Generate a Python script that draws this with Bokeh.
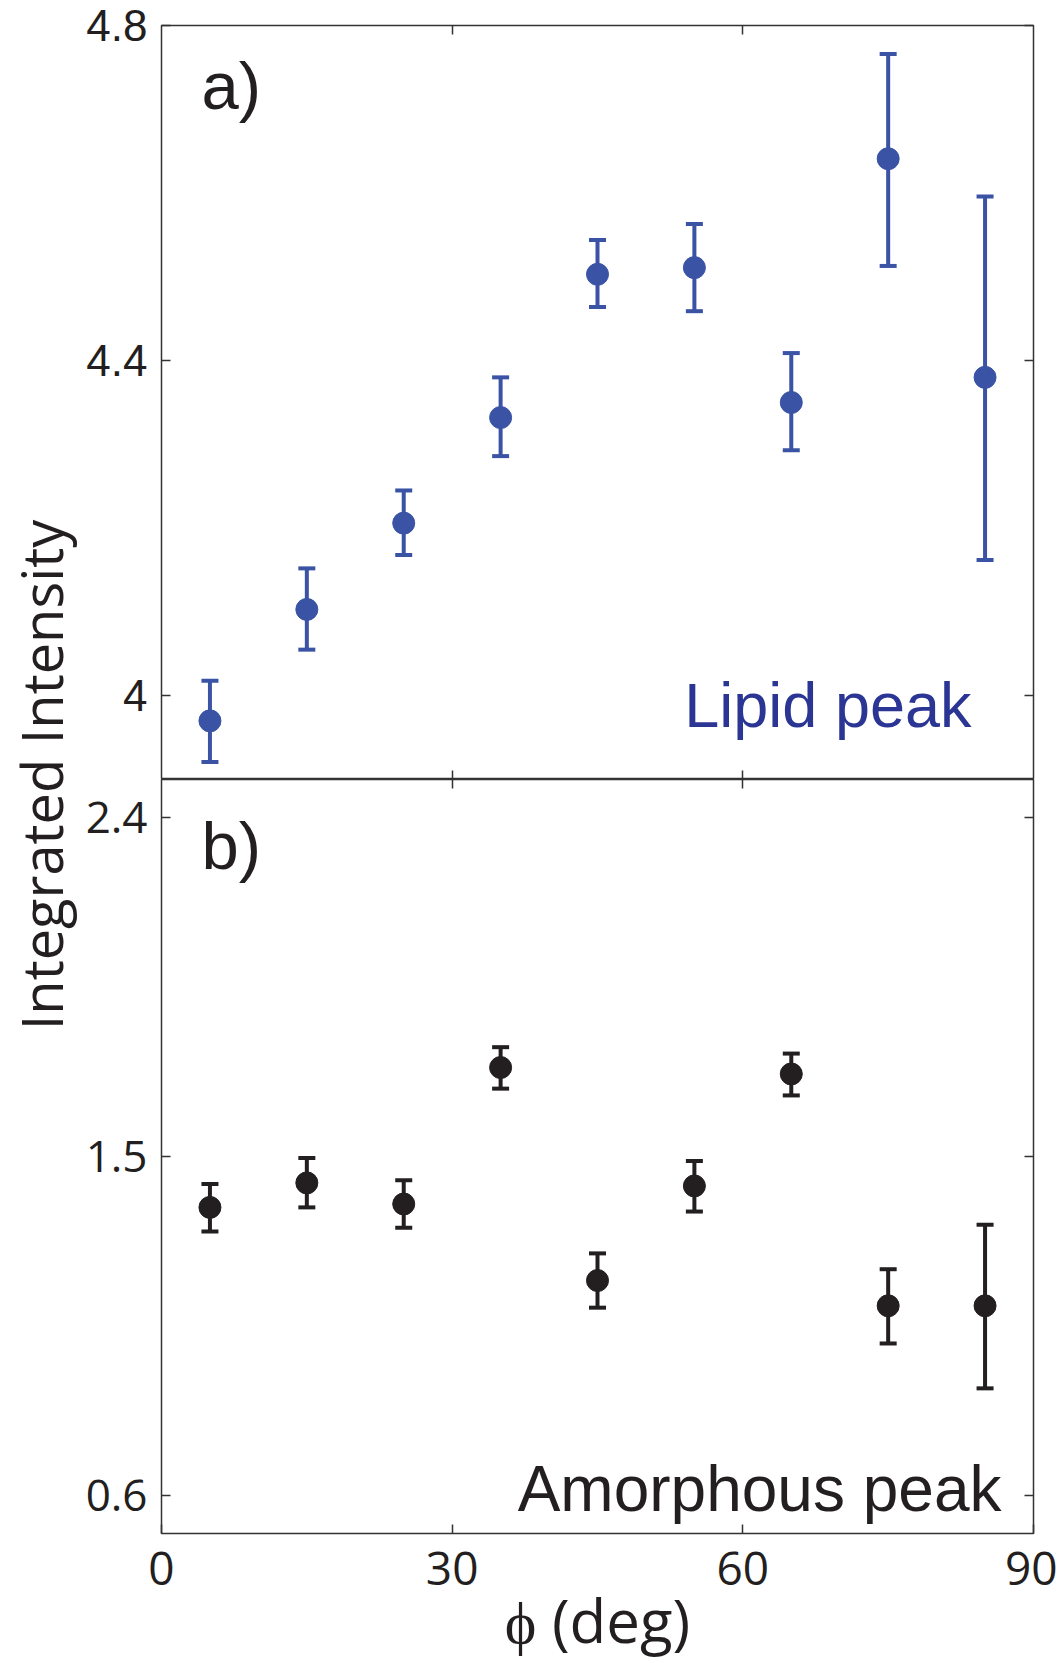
import math
from bokeh.plotting import figure
from bokeh.models import (Range1d, FixedTicker, LinearAxis, Whisker, ColumnDataSource,
                          Label, TeeHead)
from bokeh.layouts import row, column
from bokeh.embed import file_html
from bokeh.resources import INLINE

# ---------------- data ----------------
phi = [5, 15, 25, 35, 45, 55, 65, 75, 85]
lipid = [3.970, 4.103, 4.206, 4.332, 4.503, 4.511, 4.350, 4.641, 4.380]
lipid_upper = [4.018, 4.152, 4.245, 4.380, 4.544, 4.563, 4.409, 4.766, 4.596]
lipid_lower = [3.921, 4.055, 4.168, 4.286, 4.464, 4.459, 4.293, 4.513, 4.162]
amorph = [1.365, 1.430, 1.374, 1.736, 1.171, 1.422, 1.719, 1.104, 1.104]
amorph_upper = [1.427, 1.496, 1.437, 1.790, 1.243, 1.488, 1.773, 1.201, 1.319]
amorph_lower = [1.301, 1.365, 1.311, 1.680, 1.099, 1.354, 1.662, 1.004, 0.885]
x_ticks = [0, 30, 60, 90]
x_inner_ticks = [30, 60]
lipid_ticks = [4.0, 4.4, 4.8]
amorph_ticks = [0.6, 1.5, 2.4]

BLUE = "#3A53A4"
BLUE_TXT = "#2B3594"
BLACK = "#231F20"
FRAME = "#333333"
SANS_A = "Liberation Sans"
SANS_B = "Open Sans"


def blank_axis(ticks):
    return LinearAxis(ticker=FixedTicker(ticks=ticks), major_tick_in=9, major_tick_out=0,
                      minor_tick_line_color=None, axis_line_color=None,
                      major_tick_line_color=FRAME, major_tick_line_width=1.5,
                      major_label_overrides={t: "" for t in ticks},
                      major_label_text_font_size="1px", major_label_standoff=0)


def panel(yr, yticks, tick_font, top, bottom, pts, up, lo, color):
    p = figure(frame_width=872, frame_height=754, x_range=Range1d(0, 90), y_range=yr,
               output_backend="svg", toolbar_location=None,
               x_axis_location=None, y_axis_location=None,
               min_border_left=78, min_border_right=24, min_border_top=top,
               min_border_bottom=bottom, outline_line_color=FRAME, outline_line_width=1.5,
               background_fill_color="white", border_fill_color="white")
    p.grid.grid_line_color = None
    left = LinearAxis(ticker=FixedTicker(ticks=yticks), major_tick_in=9, major_tick_out=0,
                      minor_tick_line_color=None, axis_line_color=None,
                      major_tick_line_color=FRAME, major_tick_line_width=1.5,
                      major_label_text_font=tick_font, major_label_text_font_size="44px",
                      major_label_text_color=BLACK, major_label_standoff=14)
    p.add_layout(left, "left")
    p.add_layout(blank_axis(yticks), "right")
    p.add_layout(blank_axis(x_inner_ticks), "above")
    src = ColumnDataSource(dict(x=phi, y=pts, upper=up, lower=lo))
    w = Whisker(base="x", upper="upper", lower="lower", source=src,
                line_color=color, line_width=4,
                upper_head=TeeHead(size=17, line_color=color, line_width=4),
                lower_head=TeeHead(size=17, line_color=color, line_width=4))
    p.add_layout(w)
    p.scatter("x", "y", source=src, size=22, color=color)
    return p


p1 = panel(Range1d(3.9, 4.8), lipid_ticks, SANS_A, 25, 0, lipid, lipid_upper, lipid_lower, BLUE)
p1.add_layout(blank_axis(x_inner_ticks), "below")
p1.add_layout(Label(x=4.13, y=4.728, text="a)", text_font=SANS_A, text_font_size="67px",
                    text_color=BLACK, text_align="left", text_baseline="alphabetic"))
p1.add_layout(Label(x=83.6, y=3.989, text="Lipid peak", text_font=SANS_A,
                    text_font_size="63px", text_color=BLUE_TXT, text_align="right",
                    text_baseline="alphabetic"))

p2 = panel(Range1d(0.5, 2.5), amorph_ticks, SANS_B, 0, 129, amorph, amorph_upper, amorph_lower, BLACK)
xax = LinearAxis(ticker=FixedTicker(ticks=x_ticks), major_tick_in=9, major_tick_out=0,
                 minor_tick_line_color=None, axis_line_color=None,
                 major_tick_line_color=FRAME, major_tick_line_width=1.5,
                 major_label_text_font=SANS_B, major_label_text_font_size="46px",
                 major_label_text_color=BLACK, major_label_standoff=18,
                 axis_label="\u03d5 (deg)", axis_label_text_font=SANS_B,
                 axis_label_text_font_size="60px", axis_label_text_font_style="normal",
                 axis_label_text_color=BLACK, axis_label_standoff=-9)
p2.add_layout(xax, "below")
p2.add_layout(Label(x=4.13, y=2.326, text="b)", text_font=SANS_A, text_font_size="67px",
                    text_color=BLACK, text_align="left", text_baseline="alphabetic"))
p2.add_layout(Label(x=86.7, y=0.619, text="Amorphous peak", text_font=SANS_A,
                    text_font_size="64px", text_color=BLACK, text_align="right",
                    text_baseline="alphabetic"))

lab = figure(width=82, height=1662, x_range=Range1d(0, 1), y_range=Range1d(0, 1),
             output_backend="svg", toolbar_location=None, x_axis_location=None,
             y_axis_location=None, min_border=0, outline_line_color=None)
lab.grid.grid_line_color = None
lab.add_layout(Label(x=0.49, y=0.534, text="Integrated Intensity", angle=math.pi / 2,
                     text_font=SANS_B, text_font_size="56px", text_color=BLACK,
                     text_align="center", text_baseline="alphabetic"))

layout = row(lab, column(p1, p2))
open("out.html", "w").write(file_html(layout, INLINE))
